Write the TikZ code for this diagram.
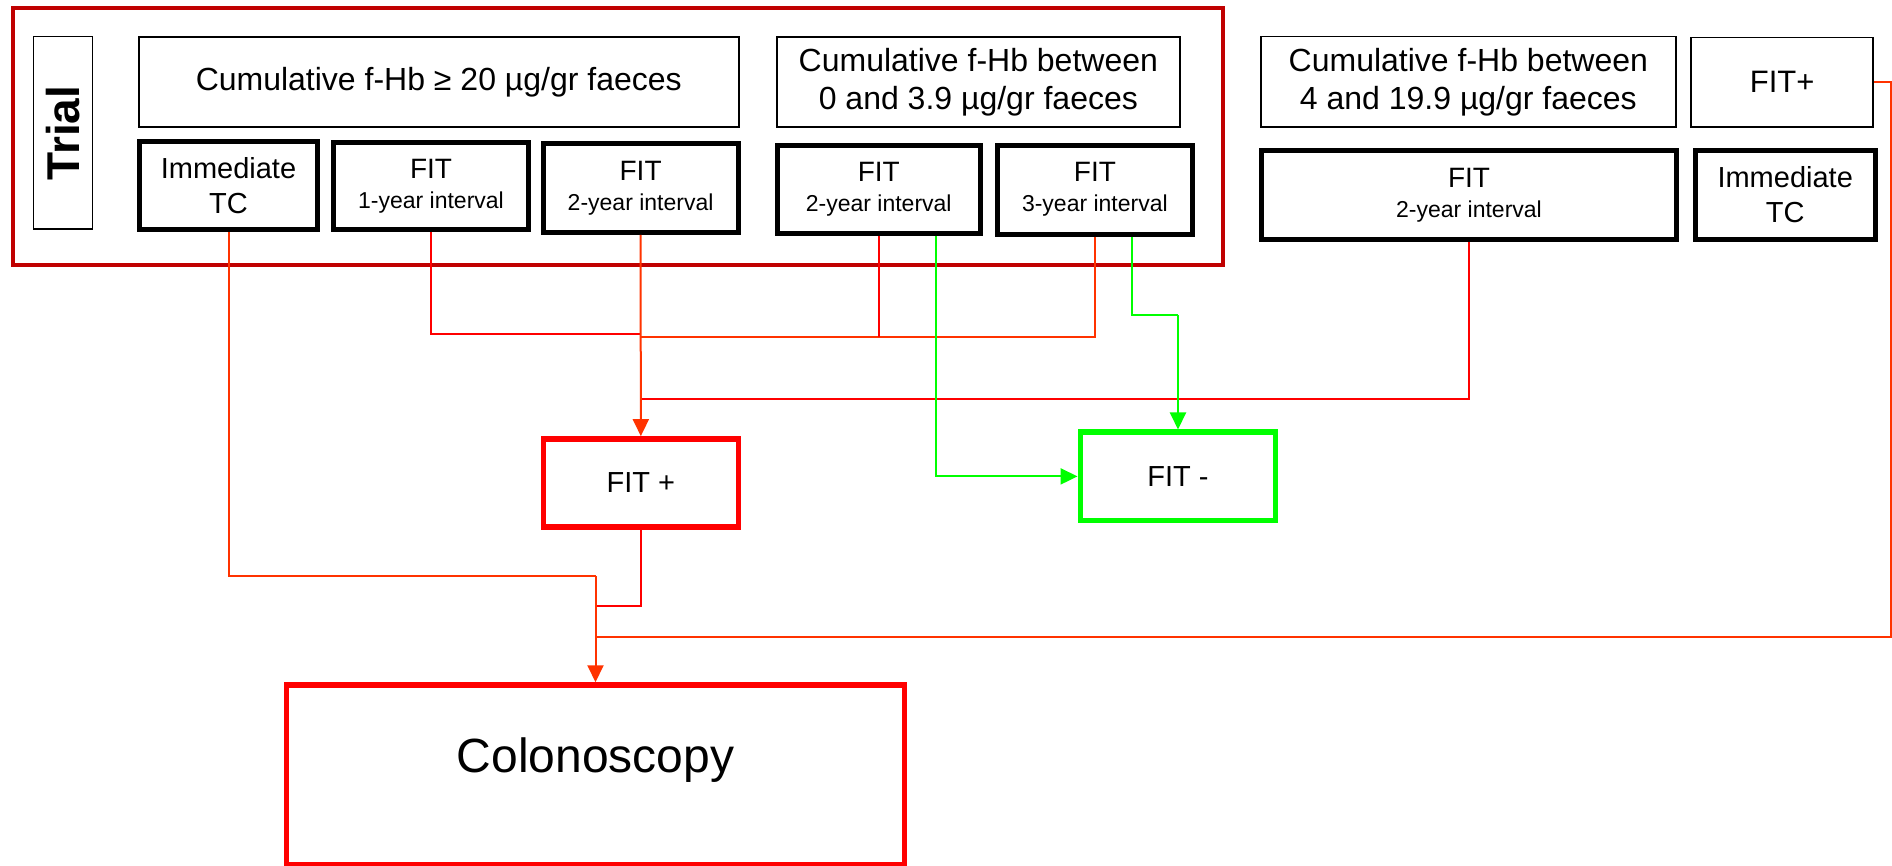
\documentclass[tikz,border=0pt]{standalone}
\usepackage{fontspec}
\setmainfont{Liberation Sans}
\usepackage{xcolor}
\usepackage{tikz}
\usetikzlibrary{
  arrows.meta,
  positioning,
  calc
}
\definecolor{framered}{RGB}{192,0,0}
\definecolor{linered}{RGB}{255,0,0}
\definecolor{lineorange}{RGB}{255,51,0}
\definecolor{linegreen}{RGB}{0,255,0}

\begin{document}
\begin{tikzpicture}[
  x=0.5pt, y=-0.5pt,
  thinbox/.style={rectangle, draw=black, line width=0.75pt, inner sep=0pt, align=center},
  fitbox/.style={rectangle, draw=black, line width=2.5pt, inner sep=0pt, align=center},
  posbox/.style={rectangle, draw=linered, line width=2.75pt, inner sep=0pt, align=center},
  negbox/.style={rectangle, draw=linegreen, line width=2.75pt, inner sep=0pt, align=center},
  cumfont/.style={font=\fontsize{16}{19}\selectfont},
  tcfont/.style={font=\fontsize{14.5}{17.5}\selectfont},
  intfont/.style={font=\fontsize{11.5}{15}\selectfont},
  redline/.style={draw=linered, line width=1pt},
  orline/.style={draw=lineorange, line width=1pt},
  greenline/.style={draw=linegreen, line width=1pt},
  tip/.style={-{Triangle[length=8.5pt,width=8pt]}}
]
  \path[fill=white] (0,0) rectangle (1892,866);
  \useasboundingbox (0,0) rectangle (1892,866);

  \draw[draw=framered, line width=2pt] (13,8) rectangle (1223,265);

  \node[thinbox, rotate=90, minimum width=96.25pt, minimum height=29.5pt,
        font=\fontsize{23}{27}\selectfont\bfseries] (trial) at (62.75,133) {Trial};

  \node[thinbox, cumfont, minimum width=300pt, minimum height=45pt] (cumA) at (438.75,81.85)
    {Cumulative f-Hb ≥ 20 µg/gr faeces};
  \node[thinbox, cumfont, minimum width=201.5pt, minimum height=45pt] (cumB) at (978.35,81.85)
    {Cumulative f-Hb between\\0 and 3.9 µg/gr faeces};
  \node[thinbox, cumfont, minimum width=207.5pt, minimum height=45.25pt] (cumC) at (1468.35,82)
    {Cumulative f-Hb between\\4 and 19.9 µg/gr faeces};
  \node[thinbox, font=\fontsize{15.5}{18}\selectfont, minimum width=91pt, minimum height=44.75pt] (fitpos) at (1782.15,82.2)
    {FIT+};

  \node[fitbox, tcfont, minimum width=89pt, minimum height=44pt] (tcA) at (228.5,185.5) {Immediate\\TC};
  \node[fitbox, intfont, minimum width=97.5pt, minimum height=43.5pt] (fit1) at (431,186)
    {{\fontsize{14}{16}\selectfont FIT}\\1-year interval};
  \node[fitbox, intfont, minimum width=97.5pt, minimum height=44.5pt] (fit2a) at (640.6,188)
    {{\fontsize{14}{16}\selectfont FIT}\\2-year interval};
  \node[fitbox, intfont, minimum width=101.75pt, minimum height=44pt] (fit2b) at (878.75,189.5)
    {{\fontsize{14}{16}\selectfont FIT}\\2-year interval};
  \node[fitbox, intfont, minimum width=97.5pt, minimum height=44.5pt] (fit3) at (1094.9,189.7)
    {{\fontsize{14}{16}\selectfont FIT}\\3-year interval};
  \node[fitbox, intfont, minimum width=207.5pt, minimum height=44.35pt] (fit2c) at (1469,194.85)
    {{\fontsize{14}{16}\selectfont FIT}\\2-year interval};
  \node[fitbox, tcfont, minimum width=90pt, minimum height=44.8pt] (tcD) at (1785.2,195) {Immediate\\TC};

  \node[posbox, font=\fontsize{14.5}{17}\selectfont, minimum width=97.5pt, minimum height=44pt] (fitplus) at (640.85,482.9) {FIT +};
  \node[negbox, font=\fontsize{14.5}{17}\selectfont, minimum width=97.7pt, minimum height=44.15pt] (fitminus) at (1178,476.4) {FIT -};
  \node[posbox, font=\fontsize{24}{28}\selectfont, text depth=20pt, minimum width=309pt, minimum height=90pt] (colon) at (595.5,775) {Colonoscopy};

  \coordinate (jy1) at (640.6,334.2);
  \coordinate (jy2) at (640.6,336.8);
  \coordinate (jc) at (640.6,398.8);
  \coordinate (jg) at (1178,315.5);
  \coordinate (jtc) at (595.5,576.3);
  \coordinate (jfp) at (595.5,606.2);
  \coordinate (jpos) at (595.5,637);
  \coordinate (rtc) at (1890.5,637);

  \draw[redline] (fit1.south) |- (jy1);
  \draw[orline] (fit3.south) |- (jy2);
  \draw[redline] (fit2b.south) -- (fit2b.south |- jy2);
  \draw[redline] (fit2c.south) |- (jc);
  \draw[orline, tip] (fit2a.south) -- (fitplus.north);

  \draw[greenline, tip] ($(fit2b.south)+(57,0)$) |- (fitminus.west);
  \draw[greenline] ($(fit3.south)+(37,0)$) |- (jg);
  \draw[greenline, tip] (jg) -- (fitminus.north);

  \draw[orline] (tcA.south) |- (jtc);
  \draw[redline] (fitplus.south) |- (jfp);
  \draw[orline] (fitpos.east) -| (rtc) -- (jpos);
  \draw[orline, tip] (jtc) -- (colon.north);
\end{tikzpicture}
\end{document}
